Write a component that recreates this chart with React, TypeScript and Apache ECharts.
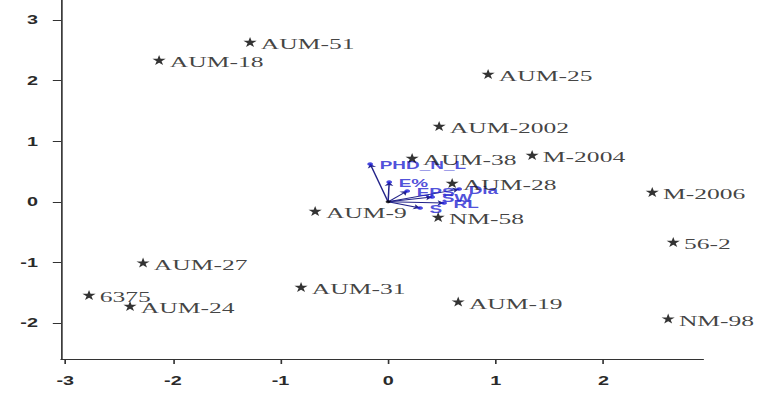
import React, { useEffect, useRef } from "react";
import * as echarts from "echarts";

// Genotype scores (PC1, PC2)
const genotypeNames = [
  "AUM-51", "AUM-18", "AUM-25", "AUM-2002", "AUM-38", "M-2004", "AUM-28", "M-2006",
  "AUM-9", "NM-58", "56-2", "AUM-27", "AUM-31", "6375", "AUM-24", "AUM-19", "NM-98",
];
const genotypePC1 = [
  -1.283, -2.128, 0.929, 0.474, 0.223, 1.338, 0.595, 2.454,
  -0.678, 0.465, 2.649, -2.277, -0.809, -2.779, -2.398, 0.651, 2.602,
];
const genotypePC2 = [
  2.637, 2.34, 2.109, 1.251, 0.723, 0.772, 0.31, 0.162,
  -0.152, -0.251, -0.663, -1.003, -1.406, -1.538, -1.719, -1.647, -1.927,
];

// Trait loadings drawn as vectors from the origin
const traitNames = ["PHD_N_L", "E%", "EPS", "SW", "RL", "Dia", "S"];
const traitPC1 = [-0.167, 0.01, 0.177, 0.409, 0.52, 0.66, 0.297];
const traitPC2 = [0.624, 0.327, 0.178, 0.079, -0.02, 0.21, -0.102];

// Axis ticks
const xTicks = [-3, -2, -1, 0, 1, 2];
const yTicks = [-2, -1, 0, 1, 2, 3];
const xRange = [-3.039, 2.928];
const yRange = [-2.594, 3.33];

const W = 772;
const H = 393;
const STRETCH = 1.65;

const STAR =
  "path://M50,0 L61,35 L98,35 L68,57 L79,91 L50,70 L21,91 L32,57 L2,35 L39,35 Z";

export default function App() {
  const ref = useRef<HTMLDivElement>(null);

  useEffect(() => {
    if (!ref.current) return;
    const chart = echarts.init(ref.current, null, { renderer: "svg" });

    const axisLineStyle = { color: "#333", width: 1 };
    const tickFont = {
      fontFamily: "Liberation Sans",
      fontSize: 12,
      fontWeight: "bold" as const,
      color: "#2a2a2a",
    };

    chart.setOption({
      animation: false,
      backgroundColor: "#fff",
      grid: { left: 37, right: W / STRETCH - 426.1, top: 0, bottom: 34 },
      xAxis: {
        type: "value",
        min: xRange[0],
        max: xRange[1],
        splitLine: { show: false },
        axisLine: { show: true, onZero: false, lineStyle: axisLineStyle },
        axisTick: { show: true, customValues: xTicks, length: 5, lineStyle: axisLineStyle },
        axisLabel: { customValues: xTicks, margin: 16, ...tickFont },
      },
      yAxis: {
        type: "value",
        min: yRange[0],
        max: yRange[1],
        splitLine: { show: false },
        axisLine: { show: true, onZero: false, lineStyle: axisLineStyle },
        axisTick: { show: true, customValues: yTicks, length: 5, lineStyle: axisLineStyle },
        axisLabel: { customValues: yTicks, margin: 14, ...tickFont },
      },
      series: [
        {
          type: "lines",
          coordinateSystem: "cartesian2d",
          symbol: ["none", "arrow"],
          symbolSize: 4,
          lineStyle: { color: "#222288", width: 0.9, opacity: 1 },
          data: traitNames.map((_, i) => ({
            coords: [
              [0, 0],
              [traitPC1[i], traitPC2[i]],
            ],
          })),
          z: 3,
        },
        {
          type: "scatter",
          symbol: "circle",
          symbolSize: 3.5,
          itemStyle: { color: "#1c1cd8" },
          label: {
            show: true,
            position: "right",
            distance: 4,
            offset: [0, 1],
            formatter: "{b}",
            fontFamily: "Liberation Sans",
            fontSize: 11.5,
            fontWeight: "bold",
            color: "#2222d0",
          },
          data: traitNames.map((n, i) => ({ name: n, value: [traitPC1[i], traitPC2[i]] })),
          z: 4,
        },
        {
          type: "scatter",
          symbol: "circle",
          symbolSize: 3,
          itemStyle: { color: "#000" },
          data: [[0, 0]],
          z: 5,
        },
        {
          type: "scatter",
          symbol: STAR,
          symbolSize: [8, 10],
          itemStyle: { color: "#000" },
          label: {
            show: true,
            position: "right",
            distance: 2.5,
            offset: [0, 2],
            formatter: "{b}",
            fontFamily: "Liberation Serif",
            fontSize: 15.5,
            color: "#111",
          },
          data: genotypeNames.map((n, i) => ({ name: n, value: [genotypePC1[i], genotypePC2[i]] })),
          z: 6,
        },
      ],
    });

    return () => chart.dispose();
  }, []);

  return (
    <div
      ref={ref}
      style={{
        position: "fixed",
        left: 0,
        top: 0,
        width: W / STRETCH,
        height: H,
        transform: `scaleX(${STRETCH})`,
        transformOrigin: "0 0",
        background: "#fff",
      }}
    />
  );
}
